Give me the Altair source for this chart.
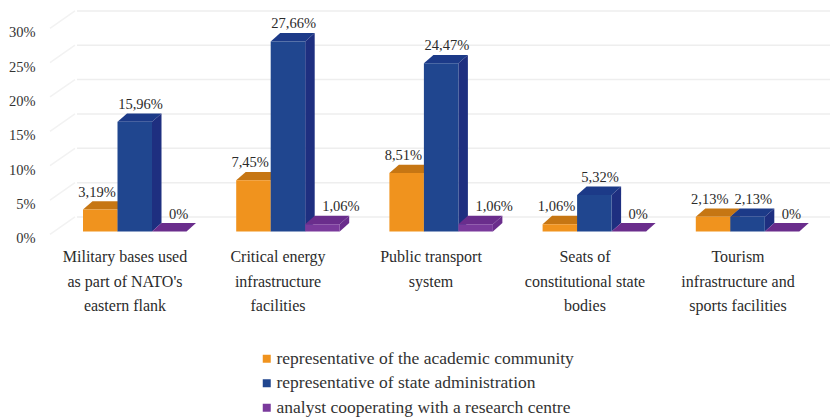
import altair as alt
import pandas as pd

categories = [
    "Military bases used\nas part of NATO's\neastern flank",
    "Critical energy\ninfrastructure\nfacilities",
    "Public transport\nsystem",
    "Seats of\nconstitutional state\nbodies",
    "Tourism\ninfrastructure and\nsports facilities",
]
category_centres = [125, 278, 431, 585, 738]
series = [
    "representative of the academic community",
    "representative of state administration",
    "analyst cooperating with a research centre",
]
academic = [3.19, 7.45, 8.51, 1.06, 2.13]
state = [15.96, 27.66, 24.47, 5.32, 2.13]
analyst = [0, 1.06, 1.06, 0, 0]
academic_labels = ["3,19%", "7,45%", "8,51%", "1,06%", "2,13%"]
state_labels = ["15,96%", "27,66%", "24,47%", "5,32%", "2,13%"]
analyst_labels = ["0%", "1,06%", "1,06%", "0%", "0%"]
front_colors = ["#f0931e", "#20468f", "#7a3a9c"]
top_colors = ["#c67613", "#1c3a88", "#6a2d8c"]
side_colors = ["#d98312", "#1e2f80", "#6a2d8c"]
y_ticks = [0, 5, 10, 15, 20, 25, 30]

FONT = "Liberation Serif"
GROUP_START, GROUP_STEP, BAR_W = 83, 153.2, 34.5
DEPTH_X, DEPTH_Y = 9.5, 1.22
WALL_Y = 2.11
H = 410
RIGHT = 830

x_scale = alt.Scale(domain=[40, RIGHT], range=[0, RIGHT - 40], nice=False, zero=False)
y_scale = alt.Scale(domain=[-27.15, 32.53], range=[H, 0], nice=False, zero=False)
y_axis = alt.Axis(
    values=y_ticks, title=None, grid=False, domain=False, ticks=False,
    labelExpr="datum.value + '%'", labelFont="Liberation Serif", labelFontSize=14.5,
    labelColor="#333333", labelPadding=5, labelOffset=7.5,
)
X = lambda f: alt.X(f, type="quantitative", scale=x_scale, axis=None)
Y = lambda f: alt.Y(f, type="quantitative", scale=y_scale, axis=y_axis)

values = [academic, state, analyst]
labels = [academic_labels, state_labels, analyst_labels]
front, side, top, text = [], [], [], []
for s, name in enumerate(series):
    for g in range(len(categories)):
        v = values[s][g]
        x0 = GROUP_START + GROUP_STEP * g + BAR_W * s
        x1 = x0 + BAR_W
        front.append(dict(series=name, x0=x0, x1=x1, y0=0, y1=v))
        side += [
            dict(s=s, g=g, x=x1, y=v, y2=0),
            dict(s=s, g=g, x=x1 + DEPTH_X, y=v + DEPTH_Y, y2=DEPTH_Y),
        ]
        top += [
            dict(s=s, g=g, x=x0, y=v, y2=v),
            dict(s=s, g=g, x=x0 + DEPTH_X, y=v + DEPTH_Y, y2=v),
            dict(s=s, g=g, x=x1, y=v + DEPTH_Y, y2=v),
            dict(s=s, g=g, x=x1 + DEPTH_X, y=v + DEPTH_Y, y2=v + DEPTH_Y),
        ]
        text.append(dict(s=s, x=x0 + [14, 23, 17][s], y=v + DEPTH_Y + 1.25, t=labels[s][g]))

front, side, top, text = map(pd.DataFrame, (front, side, top, text))

grid_df = pd.DataFrame({"v": [t + WALL_Y for t in y_ticks], "a": 77, "b": RIGHT})
wall_df = pd.DataFrame(
    [dict(t=t, x=50, y=t - 0.42) for t in y_ticks] + [dict(t=t, x=75, y=t + WALL_Y) for t in y_ticks]
)
cat_df = pd.DataFrame({"x": category_centres, "t": categories})
cat_df["t"] = cat_df["t"].str.split("\n")

GRID = "#eeeeee"
layers = [
    alt.Chart(grid_df).mark_rule(color=GRID, strokeWidth=1.5).encode(x=X("a"), x2="b", y=Y("v")),
    alt.Chart(wall_df).mark_line(color="#f2f2f2", strokeWidth=1.5).encode(x=X("x"), y=Y("y"), detail="t:N"),
]
for s in range(3):
    layers.append(
        alt.Chart(top[top.s == s]).mark_area(color=top_colors[s]).encode(
            x=X("x"), y=Y("y").stack(None), y2="y2", detail="g:N")
    )
    layers.append(
        alt.Chart(side[side.s == s]).mark_area(color=side_colors[s]).encode(
            x=X("x"), y=Y("y").stack(None), y2="y2", detail="g:N")
    )
    layers.append(
        alt.Chart(front[front.series == series[s]]).mark_rect().encode(
            x=X("x0"), x2="x1", y=Y("y0"), y2="y1",
            color=alt.Color("series:N", sort=series, scale=alt.Scale(domain=series, range=front_colors),
                            legend=alt.Legend(
                                title=None, orient="none", legendX=218, legendY=342,
                                symbolType="square", symbolSize=64, symbolStrokeWidth=0,
                                labelFont=FONT, labelFontSize=17.5, labelColor="#333333",
                                labelLimit=400, rowPadding=5.5, labelOffset=1)),
        )
    )
layers.append(
    alt.Chart(text[text.s != 2]).mark_text(font=FONT, fontSize=14.5, color="#2b2b2b", baseline="middle", align="center").encode(
        x=X("x"), y=Y("y"), text="t:N")
)
layers.append(
    alt.Chart(text[text.s == 2]).mark_text(font=FONT, fontSize=14.5, color="#2b2b2b", baseline="middle", align="left").encode(
        x=X("x"), y=Y("y"), text="t:N")
)
layers.append(
    alt.Chart(cat_df).mark_text(font=FONT, fontSize=16, color="#2b2b2b", baseline="middle", align="center", lineHeight=24.5).encode(
        x=X("x"), y=alt.value(249), text="t")
)

chart = alt.layer(*layers).properties(
    width=RIGHT - 40, height=H,
    padding={"left": 32, "top": 0, "right": 0, "bottom": 0},
    autosize=alt.AutoSizeParams(type="none"),
    background="white",
).configure_view(stroke=None)

chart.save("out.html", embed_options={"renderer": "svg", "actions": False})
